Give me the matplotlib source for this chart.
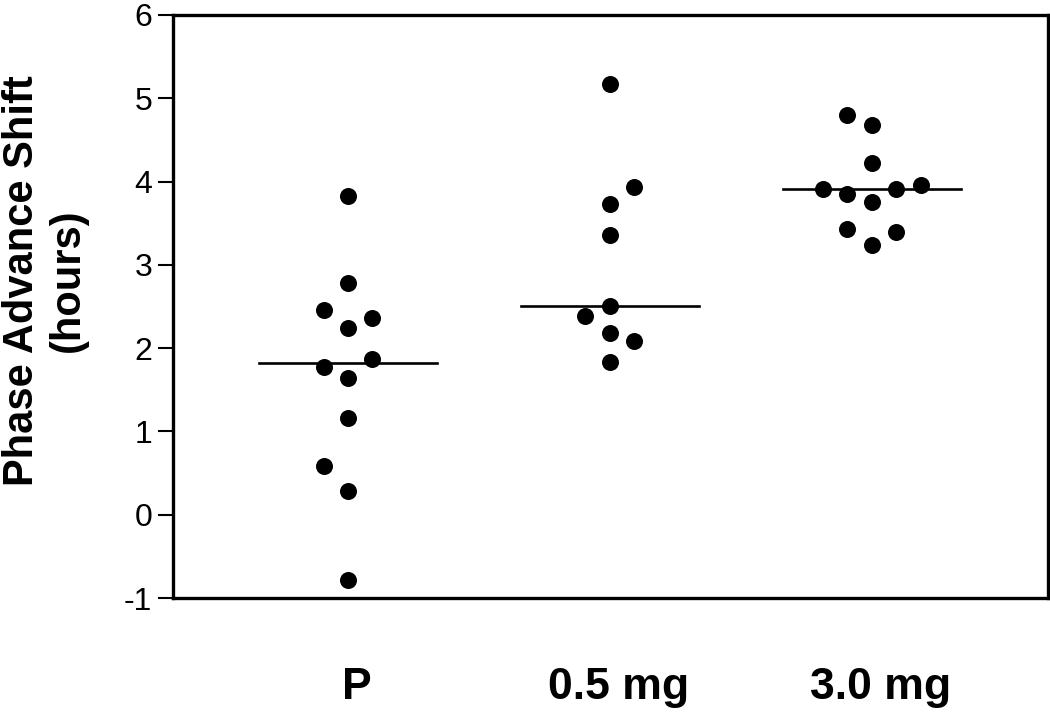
import matplotlib
matplotlib.use("Agg")
import matplotlib.pyplot as plt
import matplotlib.transforms as mtransforms
import numpy as np

categories = ["P", "0.5 mg", "3.0 mg"]
values_p = [3.83, 2.78, 2.46, 2.36, 2.24, 1.87, 1.77, 1.64, 1.16, 0.59, 0.29, -0.78]
slots_p = [0, 0, -1, 1, 0, 1, -1, 0, 0, -1, 0, 0]
values_05 = [5.17, 3.94, 3.73, 3.36, 2.51, 2.39, 2.18, 2.09, 1.83]
slots_05 = [0, 1, 0, 0, 0, -1, 0, 1, 0]
values_30 = [4.80, 4.68, 4.22, 3.91, 3.85, 3.91, 3.96, 3.75, 3.43, 3.39, 3.24]
slots_30 = [-1, 0, 0, -2, -1, 1, 2, 0, -1, 1, 0]
yticks = [-1, 0, 1, 2, 3, 4, 5, 6]

groups = [(values_p, slots_p), (values_05, slots_05), (values_30, slots_30)]

plt.rcParams['font.family'] = ['Liberation Sans', 'DejaVu Sans']
fig = plt.figure(figsize=(10.5, 7.17), dpi=100)
ax = fig.add_axes([173/1050, (717-598)/717, (1048-173)/1050, (598-15)/717])

step = 0.0935
for i, (vals, slots) in enumerate(groups):
    xc = i + 1
    xs = [xc + s * step for s in slots]
    ax.scatter(xs, vals, s=150, color="black", zorder=3, linewidths=0)
    med = np.median(vals)
    ax.plot([xc - 0.34, xc + 0.34], [med, med], color="black", lw=1.9, zorder=2)

ax.set_xlim(0.332, 3.672)
ax.set_ylim(-1, 6)
ax.set_yticks(yticks)
ax.set_yticklabels([str(t) for t in yticks], fontsize=23)
ax.set_xticks([1, 2, 3])
ax.set_xticklabels(categories, fontsize=32, fontweight="bold")
ax.tick_params(axis="x", length=0, pad=50)
ax.tick_params(axis="y", length=11, width=1.5, pad=4, direction="out")
shift = mtransforms.ScaledTranslation(9 / 100, 0, fig.dpi_scale_trans)
for lbl in ax.get_xticklabels():
    lbl.set_transform(lbl.get_transform() + shift)
for sp in ax.spines.values():
    sp.set_linewidth(2.4)

ax.set_ylabel("Phase Advance Shift\n(hours)", fontsize=30, fontweight="bold",
              multialignment="center", linespacing=1.2)
ax.yaxis.label.set_verticalalignment("center")
ax.yaxis.set_label_coords(-0.146, 0.545)

fig.savefig("out.png", dpi=100)
